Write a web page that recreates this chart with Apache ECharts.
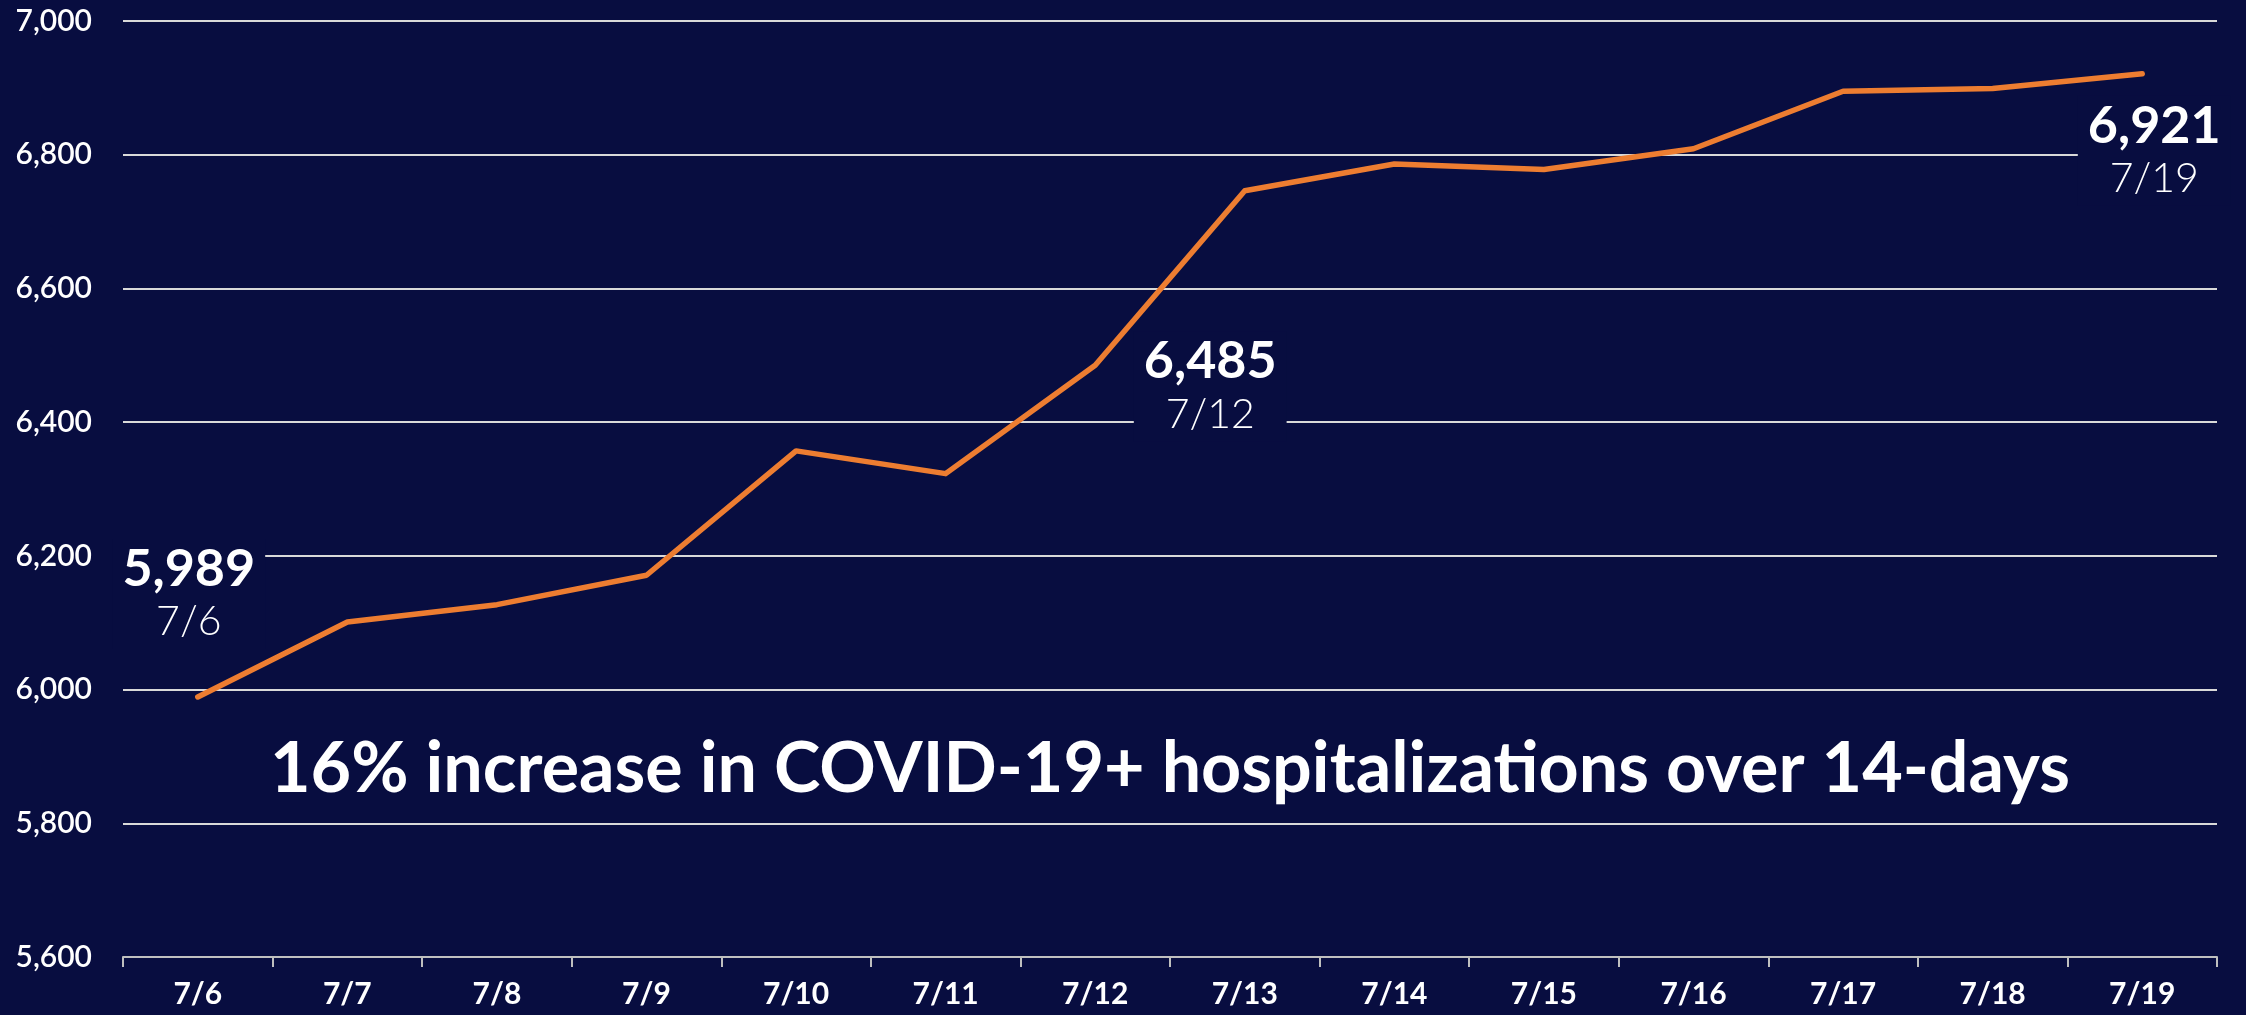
<!DOCTYPE html>
<html>
<head>
<meta charset="utf-8">
<script src="https://cdn.jsdelivr.net/npm/echarts@6/dist/echarts.min.js"></script>
<style>
  html, body { margin: 0; padding: 0; background: #080d40; }
  #chart { width: 2246px; height: 1015px; }
</style>
</head>
<body>
<div id="chart"></div>
<script>
  // 日期 / 住院人数
  var days = ['7/6', '7/7', '7/8', '7/9', '7/10', '7/11', '7/12', '7/13', '7/14', '7/15', '7/16', '7/17', '7/18', '7/19'];
  var hospitalized = [5989, 6101, 6127, 6171, 6357, 6323, 6485, 6746, 6786, 6778, 6809, 6895, 6899, 6921];
  // 标注的点 (下标) 和标注偏移
  var calloutIdx = [0, 6, 13];
  var calloutOffset = [[-9, -103], [115, 21], [12, 77]];
  var headline = '16% increase in COVID-19+ hospitalizations over 14-days';

  var fontName = 'Lato';
  var chart = echarts.init(document.getElementById('chart'));

  var seriesData = hospitalized.map(function (v, i) {
    var k = calloutIdx.indexOf(i);
    if (k < 0) return v;
    return {
      value: v,
      label: {
        show: true,
        position: 'inside',
        align: 'center',
        verticalAlign: 'middle',
        offset: calloutOffset[k],
        backgroundColor: '#080d40',
        padding: [2, 10],
        formatter: '{v|' + v.toLocaleString('en-US') + '}\n{d|' + days[i] + '}',
        rich: {
          v: { color: '#ffffff', fontFamily: fontName, fontSize: 52, fontWeight: 'bold', lineHeight: 56, align: 'center' },
          d: { color: '#ffffff', fontFamily: fontName, fontSize: 41, fontWeight: 300, lineHeight: 50, align: 'center' }
        }
      }
    };
  });

  var option = {
    backgroundColor: '#080d40',
    animation: false,
    grid: { left: 123, right: 29, top: 21, bottom: 58 },
    graphic: [{
      type: 'text',
      x: 1170,
      y: 769,
      style: {
        text: headline,
        fill: '#ffffff',
        font: 'bold 70px ' + fontName,
        align: 'center',
        verticalAlign: 'middle'
      }
    }],
    xAxis: {
      type: 'category',
      data: days,
      boundaryGap: true,
      axisLine: { lineStyle: { color: '#bfbfbf', width: 2 } },
      axisTick: { show: true, length: 10, lineStyle: { color: '#bfbfbf', width: 2 } },
      axisLabel: { color: '#ffffff', fontFamily: fontName, fontSize: 30, fontWeight: 'bold', margin: 22 }
    },
    yAxis: {
      type: 'value',
      min: 5600,
      max: 7000,
      interval: 200,
      axisLine: { show: false },
      axisTick: { show: false },
      axisLabel: {
        color: '#ffffff', fontFamily: fontName, fontSize: 30, fontWeight: 600, margin: 31,
        formatter: function (val) { return val.toLocaleString('en-US'); }
      },
      splitLine: { show: true, lineStyle: { color: '#d9d9d9', width: 2 } }
    },
    series: [{
      type: 'line',
      data: seriesData,
      symbol: 'circle',
      symbolSize: 1,
      itemStyle: { color: '#ed7d31' },
      lineStyle: { color: '#ed7d31', width: 5.5, cap: 'round', join: 'round' },
      z: 3
    }]
  };

  chart.setOption(option);
</script>
</body>
</html>
